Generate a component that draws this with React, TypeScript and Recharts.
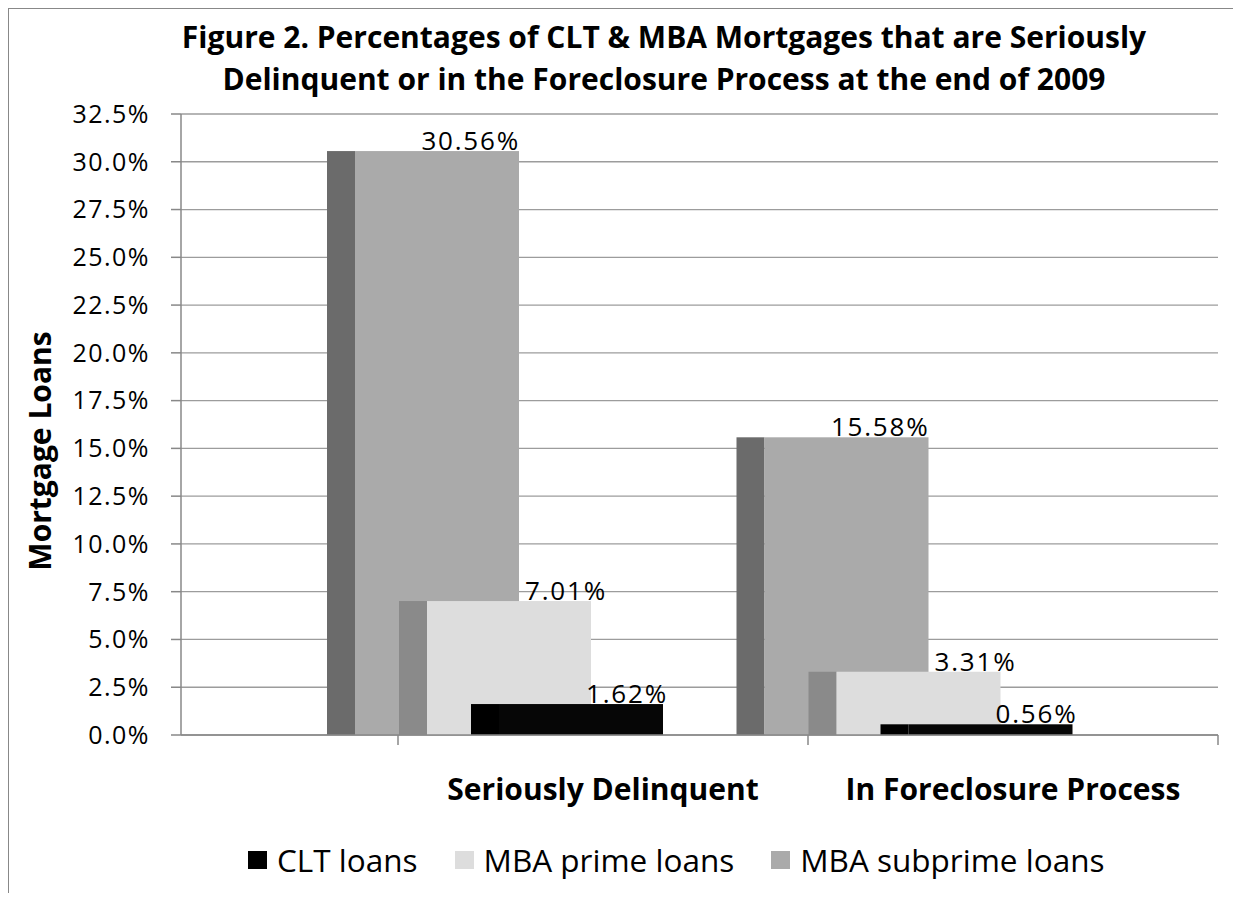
import React from 'react';
import { BarChart, Bar, XAxis, YAxis, CartesianGrid, LabelList, Legend } from 'recharts';

const categories = ['Seriously Delinquent', 'In Foreclosure Process'];
const cltLoans = [1.62, 0.56];
const mbaPrimeLoans = [7.01, 3.31];
const mbaSubprimeLoans = [30.56, 15.58];
const yTicks = [0, 2.5, 5, 7.5, 10, 12.5, 15, 17.5, 20, 22.5, 25, 27.5, 30, 32.5];
const seriesNames = ['CLT loans', 'MBA prime loans', 'MBA subprime loans'];
const titleLines = [
  'Figure 2. Percentages of CLT & MBA Mortgages that are Seriously',
  'Delinquent or in the Foreclosure Process at the end of 2009',
];
const yAxisTitle = 'Mortgage Loans';

const data = categories.map((cat, i) => ({
  cat,
  clt: cltLoans[i],
  prime: mbaPrimeLoans[i],
  sub: mbaSubprimeLoans[i],
}));

const FONT = '"Open Sans", Lato, sans-serif';

const legendColors = ['#000000', '#dddddd', '#aaaaaa'];

const make3D = (side: string, front: string) => (props: any) => {
  const { x, y, width, height } = props;
  if (!height || height <= 0) return <g />;
  const s = Math.round(width * 0.148);
  return (
    <g>
      <rect x={x} y={y} width={s} height={height} fill={side} />
      <rect x={x + s} y={y} width={width - s} height={height} fill={front} />
    </g>
  );
};

const makeLabel = (dx: number) => (props: any) => {
  const { x, y, width, value } = props;
  return (
    <text x={x + width + dx} y={y - 1} textAnchor="end" fontSize={26} letterSpacing={1.8} fill="#000" fontFamily={FONT}>
      {Number(value).toFixed(2)}%
    </text>
  );
};

const CatTick = (props: any) => {
  const { x, y, payload, index } = props;
  const half = payload && payload.offset ? payload.offset : 205;
  return (
    <g>
      <line x1={x - half} y1={y} x2={x - half} y2={y + 10} stroke="#888" strokeWidth={1.5} />
      {index === categories.length - 1 && (
        <line x1={x + half} y1={y} x2={x + half} y2={y + 10} stroke="#888" strokeWidth={1.5} />
      )}
      <text x={x} y={y + 65} textAnchor="middle" fontSize={30} fontWeight="bold" fill="#000" fontFamily={FONT}>
        {payload.value}
      </text>
    </g>
  );
};

const LegendContent = () => (
  <div style={{ display: 'flex', alignItems: 'center', fontFamily: FONT, fontSize: 31.5, color: '#000', whiteSpace: 'nowrap' }}>
    {seriesNames.map((n, i) => (
      <div key={n} style={{ display: 'flex', alignItems: 'center', marginRight: 37 }}>
        <div style={{ width: 19, height: 18, background: legendColors[i], marginRight: 10 }} />
        <span>{n}</span>
      </div>
    ))}
  </div>
);

export default function App() {
  return (
    <div style={{ position: 'relative', width: 1224, height: 884, borderTop: '1px solid #888', borderLeft: '1px solid #888', background: '#fff' }}>
      <div style={{ position: 'absolute', left: 0, top: 0, width: 1310, textAlign: 'center', fontFamily: FONT, fontWeight: 'bold', fontSize: 30, lineHeight: '42px', paddingTop: 7, color: '#000' }}>
        {titleLines.map((t) => (
          <div key={t}>{t}</div>
        ))}
      </div>
      <div style={{ position: 'absolute', left: 30, top: 442, transform: 'translate(-50%, -50%) rotate(-90deg)', fontFamily: FONT, fontWeight: 'bold', fontSize: 30, whiteSpace: 'nowrap', color: '#000' }}>
        {yAxisTitle}
      </div>
      <BarChart width={1224} height={884} data={data} barGap={-120} margin={{ top: 105, right: 15, bottom: 55, left: 0 }}>
        <CartesianGrid vertical={false} stroke="#9c9c9c" strokeWidth={1.3} xAxisId="lab" />
        <XAxis xAxisId="bar" dataKey="cat" hide height={0} padding={{ left: 109, right: 109 }} />
        <XAxis
          xAxisId="lab"
          dataKey="cat"
          padding={{ left: 217, right: 0 }}
          height={60}
          tickSize={0}
          tickMargin={0}
          tickLine={false}
          axisLine={{ stroke: '#888', strokeWidth: 1.5 }}
          tick={<CatTick />}
          interval={0}
        />
        <YAxis
          width={172}
          domain={[0, 32.5]}
          ticks={yTicks}
          interval={0}
          tickFormatter={(v: number) => v.toFixed(1) + '%'}
          tickSize={10}
          tickMargin={21}
          tick={{ fontSize: 25, fill: '#000', fontFamily: FONT, letterSpacing: 1.5 }}
          axisLine={{ stroke: '#888', strokeWidth: 1.5 }}
          tickLine={{ stroke: '#888', strokeWidth: 1.5 }}
        />
        <Legend
          verticalAlign="bottom"
          wrapperStyle={{ position: 'absolute', left: 239, top: 829, width: 1000 }}
          content={<LegendContent />}
        />
        <Bar xAxisId="bar" dataKey="sub" name={seriesNames[2]} barSize={192} shape={make3D('#6b6b6b', '#aaaaaa')} isAnimationActive={false}>
          <LabelList dataKey="sub" content={makeLabel(1)} />
        </Bar>
        <Bar xAxisId="bar" dataKey="prime" name={seriesNames[1]} barSize={192} shape={make3D('#8a8a8a', '#dddddd')} isAnimationActive={false}>
          <LabelList dataKey="prime" content={makeLabel(16)} />
        </Bar>
        <Bar xAxisId="bar" dataKey="clt" name={seriesNames[0]} barSize={192} shape={make3D('#000000', '#060606')} isAnimationActive={false}>
          <LabelList dataKey="clt" content={makeLabel(5)} />
        </Bar>
      </BarChart>
    </div>
  );
}
